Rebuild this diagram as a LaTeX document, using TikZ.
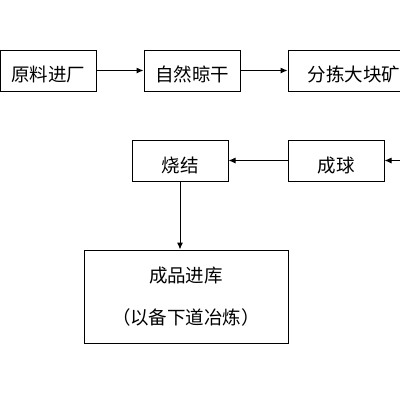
\documentclass[tikz,border=0pt]{standalone}
\usepackage{fontspec}
\newfontfamily\cjk{Noto Sans CJK SC}
\usetikzlibrary{arrows.meta}
\newcommand{\lowtxt}[2]{\raisebox{-#1}[\height][\depth]{#2}}
\begin{document}
\begin{tikzpicture}[x=1pt,y=-1pt,
  box/.style={draw, line width=1pt, minimum width=96pt, minimum height=41pt, inner sep=0pt, font=\cjk\fontsize{18.5}{42}\selectfont, align=center},
  arr/.style={-{Latex[length=7pt,width=6pt]}, line width=1pt}]
\useasboundingbox (0,0) rectangle (400,400);
\clip (0,0) rectangle (400,400);
\node[box] (a) at (48.5,70.5) {\lowtxt{4pt}{原料进厂}};
\node[box] (b) at (192,70.5) {\lowtxt{4pt}{自然晾干}};
\node[box, minimum width=132pt] (c) at (354,70.5) {\lowtxt{4pt}{分拣大块矿}};
\node[box] (d) at (180,160.5) {\lowtxt{5pt}{烧结}};
\node[box] (e) at (336,160.5) {\lowtxt{5pt}{成球}};
\node[box, minimum width=204pt, minimum height=93pt] (f) at (186,296.5) {成品进库\\（以备下道冶炼）};
\coordinate (in) at (402,160.5);
\draw[arr] (a) -- (b);
\draw[arr] (b) -- (c);
\draw[arr] (in) -- (e);
\draw[arr] (e) -- (d);
\draw[arr] (d.south) -- (d.south |- f.north);
\end{tikzpicture}
\end{document}
